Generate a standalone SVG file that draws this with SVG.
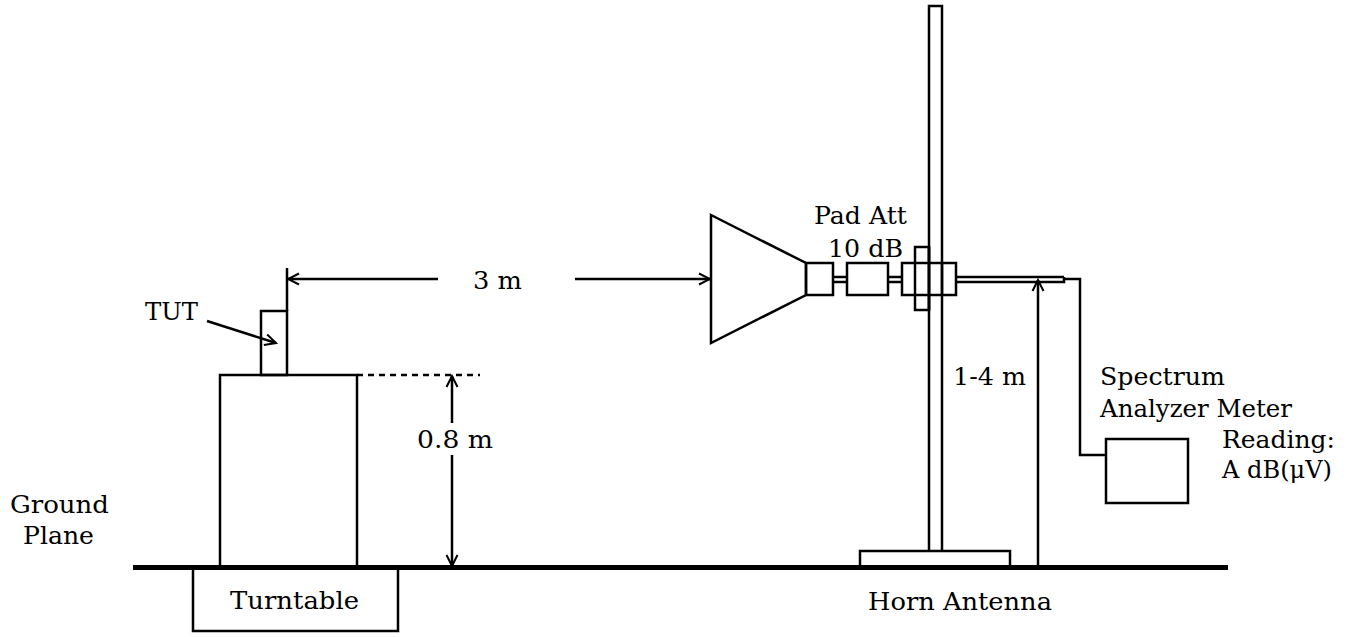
<svg xmlns="http://www.w3.org/2000/svg" width="1355" height="637" viewBox="0 0 1355 637">
<style>
.s{fill:none;stroke:#000;stroke-width:2.5}
text{font-family:"DejaVu Serif","Liberation Serif",serif;font-size:25px;fill:#000}
</style>
<defs>
<marker id="ah" markerUnits="userSpaceOnUse" markerWidth="14" markerHeight="14" refX="12" refY="6" orient="auto-start-reverse" viewBox="0 0 14 12">
<path d="M1,0.5 L12,6 L1,11.5" fill="none" stroke="#000" stroke-width="2"/>
</marker>
</defs>
<rect width="1355" height="637" fill="#fff"/>

<g id="ground">
<line x1="133" y1="567.5" x2="1228" y2="567.5" stroke="#000" stroke-width="5"/>
<text x="10" y="513" textLength="99" lengthAdjust="spacingAndGlyphs">Ground</text>
<text x="23" y="544" textLength="71" lengthAdjust="spacingAndGlyphs">Plane</text>
</g>

<g id="turntable">
<path class="s" d="M193,570 V631 H398 V570"/>
<text x="230" y="609" textLength="129" lengthAdjust="spacingAndGlyphs">Turntable</text>
</g>

<g id="table">
<rect class="s" x="220" y="375" width="137" height="192"/>
</g>

<g id="tut">
<rect class="s" x="261" y="311" width="26" height="64"/>
<text x="145" y="320" textLength="53" lengthAdjust="spacingAndGlyphs">TUT</text>
</g>

<g id="horn">
<path class="s" d="M711,215 L806,263 V295 L711,343 Z"/>
<rect class="s" x="806" y="263" width="27" height="32"/>
</g>

<g id="pad-att">
<rect class="s" x="847" y="263" width="41" height="32"/>
<text x="814" y="224" textLength="93" lengthAdjust="spacingAndGlyphs">Pad Att</text>
<text x="828" y="257" textLength="75" lengthAdjust="spacingAndGlyphs">10 dB</text>
</g>

<g id="mast">
<path class="s" d="M929,551 V6 H942 V551"/>
<rect class="s" x="860" y="551" width="150" height="16"/>
<rect class="s" x="915" y="247" width="14" height="63"/>
<rect class="s" x="902" y="263" width="54" height="32"/>
<line class="s" x1="929" y1="247" x2="929" y2="310"/>
<line class="s" x1="942" y1="263" x2="942" y2="295"/>
</g>

<g id="meter">
<rect class="s" x="1106" y="439" width="82" height="64"/>
<text x="1100" y="385" textLength="125" lengthAdjust="spacingAndGlyphs">Spectrum</text>
<text x="1100" y="417" textLength="192" lengthAdjust="spacingAndGlyphs">Analyzer Meter</text>
<text x="1222" y="448" textLength="113" lengthAdjust="spacingAndGlyphs">Reading:</text>
<text x="1222" y="478" textLength="110" lengthAdjust="spacingAndGlyphs">A dB(μV)</text>
</g>

<g id="connectors">
<path class="s" d="M833,277 H847 M833,282 H847"/>
<path class="s" d="M888,277 H902 M888,282 H902"/>
<path class="s" d="M956,277 H1064 M956,282 H1064 V277"/>
<path class="s" d="M1064,279 H1080 V455 H1106"/>
<line class="s" x1="1038" y1="567" x2="1038" y2="280" marker-end="url(#ah)"/>
<text x="953" y="385" textLength="73" lengthAdjust="spacingAndGlyphs">1-4 m</text>
<line class="s" x1="287" y1="268" x2="287" y2="311"/>
<line class="s" x1="438" y1="279" x2="288" y2="279" marker-end="url(#ah)"/>
<line class="s" x1="575" y1="279" x2="710" y2="279" marker-end="url(#ah)"/>
<text x="473" y="289" textLength="49" lengthAdjust="spacingAndGlyphs">3 m</text>
<line class="s" x1="357" y1="375" x2="480" y2="375" stroke-dasharray="6,5"/>
<line class="s" x1="452" y1="423" x2="452" y2="376" marker-end="url(#ah)"/>
<line class="s" x1="452" y1="455" x2="452" y2="566" marker-end="url(#ah)"/>
<text x="417" y="448" textLength="76" lengthAdjust="spacingAndGlyphs">0.8 m</text>
<line class="s" x1="207" y1="321" x2="276" y2="343" marker-end="url(#ah)"/>
<text x="868" y="610" textLength="184" lengthAdjust="spacingAndGlyphs">Horn Antenna</text>
</g>
</svg>
